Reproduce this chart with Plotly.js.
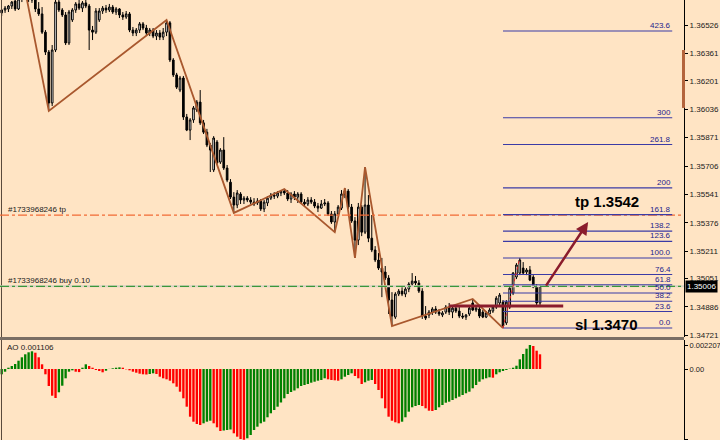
<!DOCTYPE html>
<html><head><meta charset="utf-8">
<script src="https://cdn.plot.ly/plotly-3.0.1.min.js"></script>
<style>html,body{margin:0;padding:0;background:#ffe4c4;}#chart{width:720px;height:440px;}</style>
</head><body><div id="chart"></div>
<script>
// ---- candles (one bar per index) ----
const open=[1.36597,1.36614,1.36620,1.36637,1.36666,1.36620,1.36678,1.36695,1.36689,1.36684,
1.36672,1.36620,1.36591,1.36485,1.36369,1.36073,1.36381,1.36660,1.36614,1.36585,
1.36422,1.36556,1.36614,1.36649,1.36625,1.36655,1.36637,1.36497,1.36485,1.36556,
1.36608,1.36625,1.36614,1.36631,1.36602,1.36620,1.36585,1.36573,1.36591,1.36497,
1.36480,1.36497,1.36533,1.36509,1.36480,1.36497,1.36462,1.36480,1.36456,1.36485,
1.36539,1.36323,1.36236,1.36148,1.36218,1.35991,1.35915,1.35974,1.36032,1.36078,
1.35957,1.35903,1.35828,1.35683,1.35845,1.35729,1.35799,1.35694,1.35612,1.35525,
1.35479,1.35543,1.35508,1.35519,1.35508,1.35496,1.35491,1.35502,1.35456,1.35491,
1.35519,1.35537,1.35531,1.35549,1.35560,1.35549,1.35514,1.35543,1.35525,1.35543,
1.35496,1.35485,1.35508,1.35496,1.35473,1.35461,1.35485,1.35491,1.35427,1.35380,
1.35427,1.35461,1.35543,1.35560,1.35467,1.35386,1.35275,1.35467,1.35321,1.35479,
1.35286,1.35217,1.35159,1.35112,1.35089,1.35054,1.34926,1.34827,1.34961,1.34978,
1.34961,1.34990,1.35019,1.35036,1.35025,1.34978,1.34833,1.34839,1.34856,1.34874,
1.34856,1.34839,1.34856,1.34885,1.34856,1.34879,1.34862,1.34833,1.34827,1.34845,
1.34909,1.34868,1.34874,1.34856,1.34827,1.34845,1.34862,1.34885,1.34909,1.34914,
1.34793,1.34885,1.34967,1.35060,1.35083,1.35112,1.35089,1.35101,1.35060,1.35001,
1.34909];
const high=[1.36620,1.36637,1.36643,1.36666,1.36689,1.36684,1.36707,1.36724,1.36707,1.36695,
1.36689,1.36660,1.36631,1.36497,1.36381,1.36410,1.36689,1.36684,1.36625,1.36602,
1.36614,1.36625,1.36660,1.36672,1.36666,1.36678,1.36649,1.36521,1.36625,1.36625,
1.36637,1.36643,1.36649,1.36643,1.36631,1.36625,1.36602,1.36608,1.36602,1.36515,
1.36509,1.36544,1.36544,1.36527,1.36509,1.36509,1.36497,1.36497,1.36509,1.36556,
1.36550,1.36334,1.36248,1.36230,1.36230,1.36009,1.35985,1.36055,1.36090,1.36148,
1.35974,1.35922,1.35840,1.35880,1.35857,1.35810,1.35874,1.35712,1.35630,1.35554,
1.35566,1.35554,1.35531,1.35531,1.35525,1.35519,1.35519,1.35514,1.35508,1.35531,
1.35549,1.35554,1.35560,1.35566,1.35572,1.35566,1.35554,1.35560,1.35554,1.35554,
1.35514,1.35525,1.35525,1.35514,1.35491,1.35508,1.35514,1.35502,1.35444,1.35444,
1.35479,1.35566,1.35578,1.35572,1.35485,1.35409,1.35491,1.35479,1.35700,1.35537,
1.35421,1.35240,1.35200,1.35171,1.35124,1.35071,1.34972,1.34972,1.34990,1.35001,
1.35007,1.35030,1.35083,1.35066,1.35042,1.34995,1.34891,1.34868,1.34885,1.34891,
1.34874,1.34862,1.34897,1.34909,1.34897,1.34897,1.34885,1.34851,1.34845,1.34891,
1.34932,1.34891,1.34885,1.34868,1.34862,1.34879,1.34897,1.34949,1.34967,1.34926,
1.34926,1.35007,1.35089,1.35141,1.35171,1.35147,1.35112,1.35124,1.35071,1.35019,
1.35013];
const low=[1.36579,1.36597,1.36602,1.36620,1.36608,1.36614,1.36660,1.36678,1.36660,1.36655,
1.36602,1.36579,1.36474,1.36352,1.36026,1.36055,1.36369,1.36602,1.36573,1.36410,
1.36410,1.36544,1.36597,1.36614,1.36602,1.36625,1.36381,1.36439,1.36474,1.36544,
1.36591,1.36597,1.36602,1.36591,1.36585,1.36567,1.36556,1.36562,1.36485,1.36462,
1.36462,1.36480,1.36497,1.36468,1.36462,1.36450,1.36439,1.36439,1.36439,1.36462,
1.36311,1.36224,1.36154,1.36136,1.35974,1.35909,1.35857,1.35957,1.36020,1.35945,
1.35892,1.35816,1.35671,1.35671,1.35712,1.35718,1.35683,1.35612,1.35514,1.35433,
1.35461,1.35485,1.35485,1.35496,1.35485,1.35473,1.35479,1.35444,1.35438,1.35473,
1.35508,1.35514,1.35519,1.35531,1.35537,1.35502,1.35491,1.35508,1.35491,1.35485,
1.35473,1.35473,1.35485,1.35461,1.35438,1.35456,1.35473,1.35415,1.35369,1.35321,
1.35415,1.35450,1.35519,1.35456,1.35375,1.35171,1.35246,1.35298,1.35310,1.35263,
1.35205,1.35147,1.35101,1.34943,1.35042,1.34845,1.34775,1.34816,1.34949,1.34949,
1.34943,1.34972,1.35007,1.35013,1.34967,1.34816,1.34810,1.34821,1.34839,1.34845,
1.34833,1.34827,1.34845,1.34839,1.34821,1.34851,1.34821,1.34816,1.34810,1.34833,
1.34862,1.34856,1.34821,1.34821,1.34821,1.34833,1.34851,1.34874,1.34897,1.34763,
1.34781,1.34874,1.34955,1.35048,1.35071,1.35077,1.35071,1.35036,1.34995,1.34897,
1.34897];
const close=[1.36614,1.36625,1.36637,1.36660,1.36620,1.36678,1.36695,1.36689,1.36684,1.36672,
1.36620,1.36591,1.36485,1.36369,1.36073,1.36381,1.36660,1.36614,1.36585,1.36422,
1.36602,1.36614,1.36649,1.36625,1.36655,1.36637,1.36497,1.36485,1.36608,1.36608,
1.36625,1.36614,1.36631,1.36602,1.36620,1.36585,1.36573,1.36591,1.36497,1.36480,
1.36497,1.36533,1.36509,1.36480,1.36497,1.36462,1.36480,1.36456,1.36485,1.36539,
1.36323,1.36236,1.36165,1.36218,1.35991,1.35915,1.35974,1.36044,1.36078,1.35957,
1.35903,1.35828,1.35799,1.35869,1.35724,1.35799,1.35694,1.35624,1.35525,1.35479,
1.35549,1.35508,1.35519,1.35508,1.35496,1.35485,1.35502,1.35456,1.35496,1.35519,
1.35537,1.35531,1.35549,1.35560,1.35549,1.35514,1.35543,1.35525,1.35543,1.35496,
1.35485,1.35508,1.35496,1.35473,1.35461,1.35485,1.35491,1.35427,1.35380,1.35427,
1.35467,1.35543,1.35560,1.35467,1.35386,1.35275,1.35467,1.35321,1.35479,1.35286,
1.35217,1.35159,1.35112,1.35089,1.35054,1.34926,1.34833,1.34961,1.34978,1.34961,
1.34990,1.35019,1.35036,1.35025,1.34978,1.34833,1.34821,1.34856,1.34874,1.34856,
1.34845,1.34851,1.34885,1.34856,1.34879,1.34862,1.34833,1.34827,1.34839,1.34879,
1.34868,1.34879,1.34833,1.34827,1.34851,1.34868,1.34885,1.34937,1.34955,1.34775,
1.34914,1.34995,1.35083,1.35130,1.35159,1.35083,1.35101,1.35042,1.35001,1.34909,
1.35006];
// ---- Awesome Oscillator ----
const ao=[-0.000487,-0.000248,0.000120,0.000276,0.000460,0.000763,0.001076,0.001352,0.001536,0.001628,
0.001499,0.001076,0.000432,-0.000487,-0.001563,-0.002455,-0.002667,-0.002142,-0.001536,-0.000855,
-0.000248,-0.000120,-0.000248,-0.000285,0.000120,0.000432,0.000276,0.000120,-0.000092,-0.000184,
-0.000303,-0.000156,0.000010,0.000064,0.000120,0.000156,0.000120,-0.000028,-0.000120,-0.000248,
-0.000340,-0.000432,-0.000487,-0.000506,-0.000460,-0.000395,-0.000460,-0.000708,-0.000855,-0.000947,
-0.001076,-0.001315,-0.001628,-0.002087,-0.002694,-0.003467,-0.004386,-0.004846,-0.005057,-0.005149,
-0.004993,-0.004846,-0.004754,-0.004993,-0.005361,-0.005701,-0.005655,-0.005609,-0.005563,-0.005912,
-0.006225,-0.006437,-0.006510,-0.006372,-0.006069,-0.005609,-0.005306,-0.004993,-0.004846,-0.004441,
-0.004073,-0.003770,-0.003467,-0.003080,-0.002694,-0.002299,-0.002115,-0.001977,-0.001775,-0.001563,
-0.001471,-0.001379,-0.001260,-0.001168,-0.001076,-0.001011,-0.000855,-0.000947,-0.001011,-0.001039,
-0.001076,-0.000947,-0.000708,-0.000552,-0.000395,-0.000644,-0.000855,-0.001379,-0.001223,-0.001076,
-0.001011,-0.001379,-0.001931,-0.002694,-0.003614,-0.004386,-0.004754,-0.004901,-0.004993,-0.004846,
-0.004441,-0.003926,-0.003522,-0.003402,-0.003310,-0.003402,-0.003614,-0.003834,-0.003862,-0.003770,
-0.003522,-0.003310,-0.003099,-0.003007,-0.002850,-0.002694,-0.002547,-0.002391,-0.002234,-0.002087,
-0.001775,-0.001471,-0.001168,-0.000947,-0.000855,-0.000763,-0.000800,-0.000487,-0.000303,-0.000184,
-0.000092,0.000028,0.000120,0.000303,0.000892,0.001379,0.001867,0.002207,0.002115,0.001683,
0.001352];
const priceTicks=[1.36526,1.36361,1.36201,1.36036,1.35871,1.35706,1.35541,1.35376,1.35211,1.35051,1.34886,1.34721];
const aoTickVals=[0.002207,0,-0.00648];
const aoTickText=['0.002207','0.00','-0.005808'];
const zigzagPivots=[7,14,49,69,84,99,102,105,108,116,140,149]; // alternating high/low, first is a high
const fibLowIdx=149, fibHighIdx=154;
const fibLevels=[0,23.6,38.2,50,61.8,76.4,100,123.6,138.2,161.8,200,261.8,300,423.6];
const fibLabels=['0.0','23.6','38.2','50.0','61.8','76.4','100.0','123.6','138.2','161.8','200','261.8','300','423.6'];
const tpPrice=1.3542, entryPrice=1.35006, currentPrice=1.35006;
const supportPrice=1.34891;
const aoCurrent='0.001106';
const orderTicket='#1733968246';

const idx=open.map((_,i)=>i);
const aoColors=ao.map((v,i)=> (i===0||v>=ao[i-1])?'#008000':'#ff0000');
const zzY=zigzagPivots.map((p,k)=> k%2===0?high[p]:low[p]);
const fibLo=low[fibLowIdx], fibHi=high[fibHighIdx];
const fibPrice=fibLevels.map(l=>fibLo+(fibHi-fibLo)*l/100);
const fibEnd=199.3;

const traces=[
 {type:'candlestick',x:idx,open:open,high:high,low:low,close:close,
  increasing:{line:{color:'#000',width:1},fillcolor:'#ffffff'},
  decreasing:{line:{color:'#000',width:1},fillcolor:'#000000'},
  whiskerwidth:0,hoverinfo:'skip',xaxis:'x',yaxis:'y'},
 {type:'scatter',mode:'lines',x:zigzagPivots,y:zzY,line:{color:'#a9582e',width:1.8},hoverinfo:'skip',xaxis:'x',yaxis:'y'},
 {type:'bar',x:idx,y:ao,marker:{color:aoColors,line:{width:0}},hoverinfo:'skip',xaxis:'x',yaxis:'y2'}
];

const shapes=[];
// left border of the chart window
shapes.push({type:'line',xref:'paper',yref:'paper',x0:1.5/684,x1:1.5/684,y0:0,y1:1,line:{color:'#5a4a3c',width:1}});
// trade lines
shapes.push({type:'line',xref:'paper',yref:'y',x0:0,x1:1,y0:entryPrice,y1:entryPrice,line:{color:'#d9d2c4',width:2}});
shapes.push({type:'line',xref:'paper',yref:'y',x0:0,x1:1,y0:entryPrice,y1:entryPrice,line:{color:'#3a983a',width:1.2,dash:'dashdot'}});
shapes.push({type:'line',xref:'paper',yref:'y',x0:0,x1:1,y0:tpPrice,y1:tpPrice,line:{color:'#f26a35',width:1.2,dash:'dashdot'}});
// fibonacci
fibPrice.forEach(p=>shapes.push({type:'line',xref:'x',yref:'y',x0:fibLowIdx,x1:fibEnd,y0:p,y1:p,line:{color:'#3b3ba6',width:1.1}}));
shapes.push({type:'line',xref:'x',yref:'y',x0:fibLowIdx,x1:fibHighIdx,y0:fibLo,y1:fibHi,line:{color:'#e02020',width:1,dash:'dot'}});
// support line
shapes.push({type:'line',xref:'x',yref:'y',x0:133,x1:166.9,y0:supportPrice,y1:supportPrice,line:{color:'#8b1c2c',width:3}});
// panel separator
shapes.push({type:'line',xref:'paper',yref:'paper',x0:0,x1:1,y0:1-338.5/440,y1:1-338.5/440,line:{color:'#7a6e64',width:3}});
// brown marker on the price scale
shapes.push({type:'rect',xref:'paper',yref:'y',x0:682/684,x1:685/684,y0:1.36044,y1:1.36381,fillcolor:'#b4643c',line:{width:0}});

const annotations=[];
fibPrice.forEach((p,i)=>annotations.push({xref:'x',yref:'y',x:fibEnd,y:p,xanchor:'right',yanchor:'bottom',text:fibLabels[i],showarrow:false,font:{size:8,color:'#1c1c8c'},borderpad:0}));
annotations.push({xref:'paper',yref:'y',x:7/684,y:tpPrice,xanchor:'left',yanchor:'bottom',text:orderTicket+' tp',showarrow:false,font:{size:8,color:'#1a1a1a'},borderpad:0});
annotations.push({xref:'paper',yref:'y',x:7/684,y:entryPrice,xanchor:'left',yanchor:'bottom',text:orderTicket+' buy 0.10',showarrow:false,font:{size:8,color:'#1a1a1a'},borderpad:0});
annotations.push({xref:'x',yref:'y',x:169.8,y:1.35502,xanchor:'left',yanchor:'middle',text:'<b>tp 1.3542</b>',showarrow:false,font:{size:15,color:'#000',family:'Liberation Sans, Arial, sans-serif'}});
annotations.push({xref:'x',yref:'y',x:169.8,y:1.34786,xanchor:'left',yanchor:'middle',text:'<b>sl 1.3470</b>',showarrow:false,font:{size:15,color:'#000',family:'Liberation Sans, Arial, sans-serif'}});
annotations.push({xref:'x',yref:'y',x:174.3,y:1.3538,axref:'x',ayref:'y',ax:161.5,ay:1.35001,text:'',showarrow:true,arrowhead:2,arrowsize:1,arrowwidth:2.5,arrowcolor:'#8b1c2c'});
annotations.push({xref:'paper',yref:'y',x:1,xshift:1,y:currentPrice,xanchor:'left',yanchor:'middle',text:currentPrice.toFixed(5),showarrow:false,bgcolor:'#000',font:{size:8,color:'#fff'},borderpad:1});
annotations.push({xref:'paper',yref:'paper',x:6/684,y:100/440,yshift:-2,xanchor:'left',yanchor:'top',text:'AO '+aoCurrent,showarrow:false,font:{size:8,color:'#1a1a1a'},borderpad:0});

const axisCommon={side:'right',anchor:'x',ticks:'outside',ticklen:3,tickcolor:'#000',showline:true,linecolor:'#000',linewidth:1,
  showgrid:false,zeroline:false,fixedrange:true,tickfont:{size:8,color:'#1a1a1a'}};
const layout={
 width:720,height:440,margin:{l:0,r:36,t:0,b:0,pad:0},
 paper_bgcolor:'#ffe4c4',plot_bgcolor:'#ffe4c4',showlegend:false,
 font:{family:'Liberation Sans, Arial, sans-serif',size:8,color:'#1a1a1a'},
 xaxis:{range:[-0.505,202.8],showgrid:false,zeroline:false,showticklabels:false,ticks:'',showline:false,rangeslider:{visible:false},fixedrange:true},
 yaxis:Object.assign({},axisCommon,{domain:[1-337/440,1],range:[1.34711,1.36672],tickvals:priceTicks,ticktext:priceTicks.map(v=>v.toFixed(5))}),
 yaxis2:Object.assign({},axisCommon,{domain:[0,100/440],range:[-0.006529,0.002667],tickvals:aoTickVals,ticktext:aoTickText,tickfont:{size:7.5,color:'#1a1a1a'}}),
 bargap:0.3,
 shapes:shapes,annotations:annotations
};
Plotly.newPlot('chart',traces,layout,{staticPlot:true,displayModeBar:false});
</script></body></html>
